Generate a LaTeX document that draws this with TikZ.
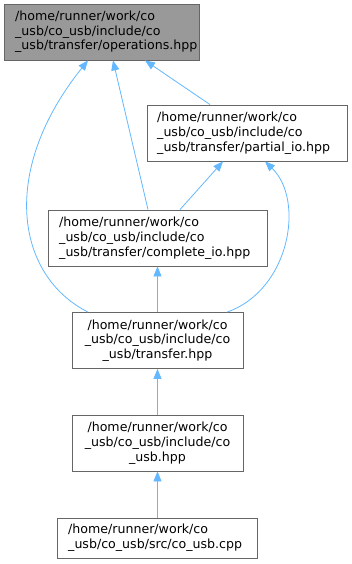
\documentclass[tikz,border=0pt]{standalone}
\usepackage{fontspec}
\setmainfont{DejaVu Sans}
\usetikzlibrary{arrows.meta}
\definecolor{edgeblue}{HTML}{63B8FF}
\definecolor{boxline}{HTML}{666666}
\definecolor{boxfill}{HTML}{999999}
\tikzset{
  filebox/.style={draw=boxline, line width=0.8pt, fill=white, inner sep=0pt, minimum height=56pt},
  curbox/.style={filebox, fill=boxfill},
  fname/.style={inner sep=0pt, font=\fontsize{12.6}{14.7}\selectfont, text=black},
  dep/.style={draw=edgeblue, line width=0.8pt, -{Triangle[length=10pt,width=8pt]}}
}
\begin{document}
\begin{tikzpicture}[x=1pt,y=1pt]
\useasboundingbox (0,0) rectangle (352,-564);
% boxes
\node[curbox, minimum width=195pt] (ops) at (101.5,-32) {};
\node[fname, anchor=west, align=left] (opst) at (15,-32) {/home/runner/work/co\\\_usb/co\_usb/include/co\\\_usb/transfer/operations.hpp};

\node[filebox, minimum width=200pt] (par) at (247,-133) {};
\node[fname, anchor=west, align=left] (part) at (157,-133) {/home/runner/work/co\\\_usb/co\_usb/include/co\\\_usb/transfer/partial\_io.hpp};

\node[filebox, minimum width=219pt] (com) at (157.5,-238) {};
\node[fname, anchor=west, align=left] (comt) at (59,-238) {/home/runner/work/co\\\_usb/co\_usb/include/co\\\_usb/transfer/complete\_io.hpp};

\node[filebox, minimum width=171pt] (tra) at (157.5,-340.5) {};
\node[fname, align=center] (trat) at (157.5,-340.5) {/home/runner/work/co\\\_usb/co\_usb/include/co\\\_usb/transfer.hpp};

\node[filebox, minimum width=171pt] (cuh) at (157.5,-443) {};
\node[fname, align=center] (cuht) at (157.5,-443) {/home/runner/work/co\\\_usb/co\_usb/include/co\\\_usb.hpp};

\node[filebox, minimum width=200pt, minimum height=40pt] (cpp) at (157,-538) {};
\node[fname, anchor=west, align=left] (cppt) at (68,-538) {/home/runner/work/co\\\_usb/co\_usb/src/co\_usb.cpp};

% edges
\draw[dep] (par.north -| 210,0) -- (ops.south -| 145,0);
\draw[dep] (com.north -| 148,0) -- (ops.south -| 113,0);
\draw[dep] (tra.north -| 88,0) .. controls (15,-275) and (0,-170) .. (ops.south -| 88,0);
\draw[dep] (com.north -| 180,0) -- (par.south -| 223,0);
\draw[dep] (tra.north -| 227,0) .. controls (290,-290) and (305,-200) .. (par.south -| 265,0);
\draw[dep] (tra.north) -- (com.south);
\draw[dep] (cuh.north) -- (tra.south);
\draw[dep] (cpp.north -| cuh.south) -- (cuh.south);
\end{tikzpicture}
\end{document}
